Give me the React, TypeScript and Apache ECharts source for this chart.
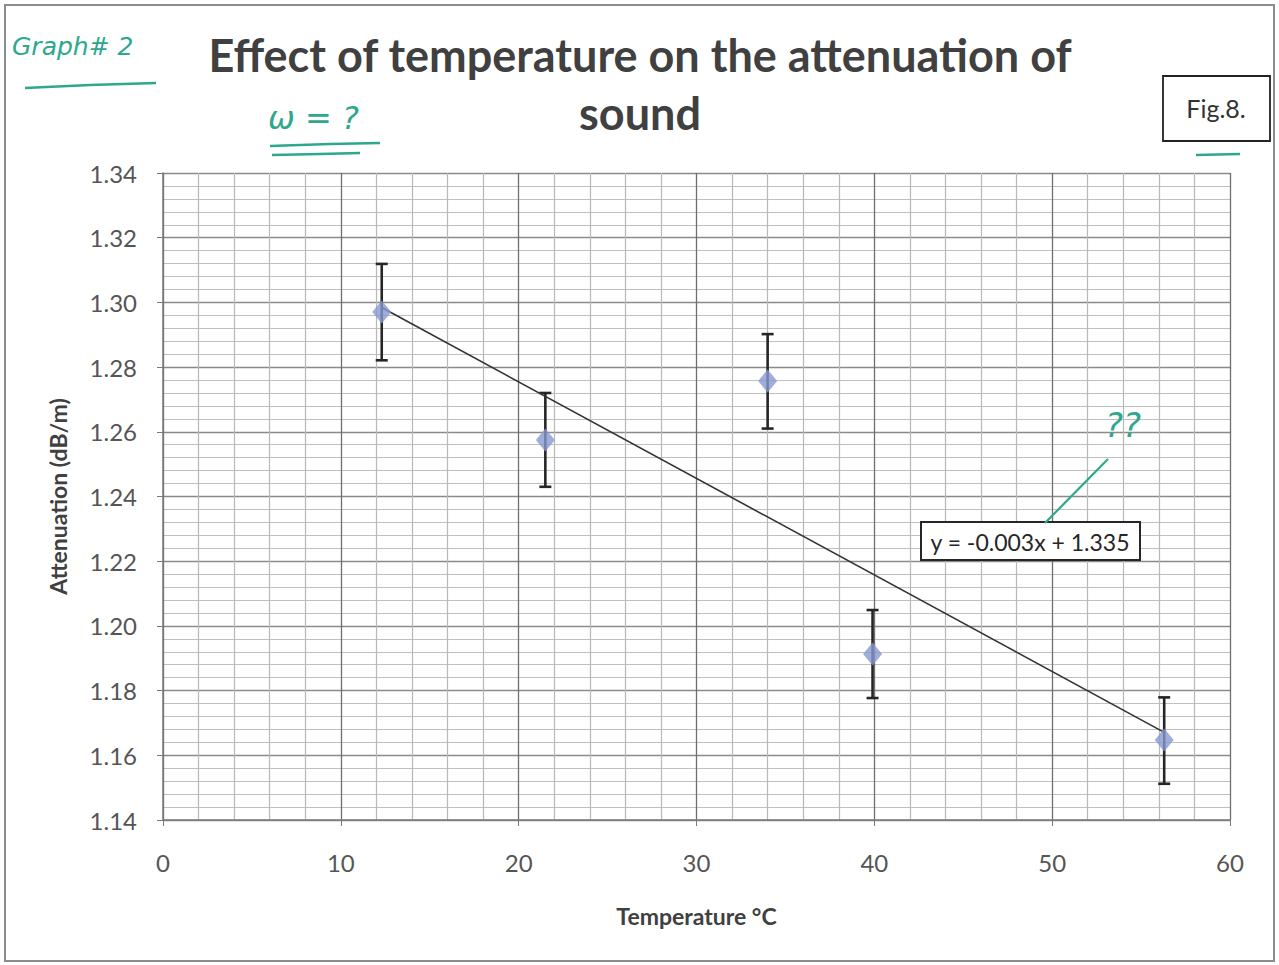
import React, { useEffect, useRef } from "react";
import * as echarts from "echarts";

const temperature = [12.3, 21.5, 34.0, 39.9, 56.3];
const attenuation = [1.297, 1.2575, 1.2757, 1.1913, 1.1647];
const errorPlus = [0.0149, 0.0145, 0.0145, 0.0136, 0.0132];
const errorMinus = [0.0149, 0.0145, 0.0147, 0.0136, 0.0135];
const titleLines = ["Effect of temperature on the attenuation of", "sound"];
const xTitle = "Temperature °C";
const yTitle = "Attenuation (dB/m)";
const equationLabel = "y = -0.003x + 1.335";
const figLabel = "Fig.8.";

function linearFit(xs: number[], ys: number[]) {
  const n = xs.length;
  const mx = xs.reduce((a, b) => a + b, 0) / n;
  const my = ys.reduce((a, b) => a + b, 0) / n;
  let sxy = 0, sxx = 0;
  for (let i = 0; i < n; i++) {
    sxy += (xs[i] - mx) * (ys[i] - my);
    sxx += (xs[i] - mx) * (xs[i] - mx);
  }
  const slope = sxy / sxx;
  return { slope, intercept: my - slope * mx };
}

const FONT = "Lato, 'Open Sans', sans-serif";
const INK = "#2da88c";

export default function App() {
  const ref = useRef<HTMLDivElement>(null);
  useEffect(() => {
    if (!ref.current) return;
    const chart = echarts.init(ref.current, null, { renderer: "svg" });
    const fit = linearFit(temperature, attenuation);
    const x0 = Math.min(...temperature);
    const x1 = Math.max(...temperature);
    const trend = [
      [x0, fit.slope * x0 + fit.intercept],
      [x1, fit.slope * x1 + fit.intercept],
    ];
    const errData = temperature.map((t, i) => [t, attenuation[i] - errorMinus[i], attenuation[i] + errorPlus[i]]);
    const pts = temperature.map((t, i) => [t, attenuation[i]]);

    chart.setOption({
      animation: false,
      backgroundColor: "#ffffff",
      grid: { left: 163, right: 49, top: 173, bottom: 145, containLabel: false },
      xAxis: {
        type: "value",
        min: 0,
        max: 60,
        interval: 10,
        name: xTitle,
        nameLocation: "middle",
        nameGap: 84,
        nameTextStyle: { fontFamily: FONT, fontWeight: "bold", fontSize: 23, color: "#404040" },
        axisLine: { show: true, lineStyle: { color: "#7a7a7a", width: 1.5 } },
        axisTick: { show: true, length: 6, lineStyle: { color: "#7a7a7a" } },
        axisLabel: { fontFamily: FONT, fontSize: 24, color: "#555555", margin: 30 },
        splitLine: { show: true, lineStyle: { color: "#6e6e6e", width: 1.3 } },
        minorTick: { show: false, splitNumber: 5 },
        minorSplitLine: { show: true, lineStyle: { color: "#b8b8b8", width: 1.2 } },
      },
      yAxis: {
        type: "value",
        min: 1.14,
        max: 1.34,
        interval: 0.02,
        name: yTitle,
        nameLocation: "middle",
        nameGap: 94,
        nameRotate: 90,
        nameTextStyle: { fontFamily: FONT, fontWeight: "bold", fontSize: 23, color: "#404040" },
        axisLine: { show: true, lineStyle: { color: "#7a7a7a", width: 1.5 } },
        axisTick: { show: true, length: 6, lineStyle: { color: "#7a7a7a" } },
        axisLabel: {
          fontFamily: FONT,
          fontSize: 24,
          color: "#555555",
          margin: 26,
          formatter: (v: number) => v.toFixed(2),
        },
        splitLine: { show: true, lineStyle: { color: "#8a8a8a", width: 1.3 } },
        minorTick: { show: false, splitNumber: 5 },
        minorSplitLine: { show: true, lineStyle: { color: "#c0c0c0", width: 1.2 } },
      },
      series: [
        {
          type: "custom",
          z: 2,
          data: errData,
          renderItem: (params: any, api: any) => {
            const x = api.value(0);
            const lo = api.coord([x, api.value(1)]);
            const hi = api.coord([x, api.value(2)]);
            const cap = 6;
            const style = { stroke: "#262626", lineWidth: 2.6 };
            return {
              type: "group",
              children: [
                { type: "line", shape: { x1: lo[0], y1: lo[1], x2: hi[0], y2: hi[1] }, style },
                { type: "line", shape: { x1: hi[0] - cap, y1: hi[1], x2: hi[0] + cap, y2: hi[1] }, style },
                { type: "line", shape: { x1: lo[0] - cap, y1: lo[1], x2: lo[0] + cap, y2: lo[1] }, style },
              ],
            };
          },
        },
        {
          type: "line",
          z: 3,
          data: trend,
          symbol: "none",
          lineStyle: { color: "#333333", width: 1.6 },
        },
        {
          type: "scatter",
          z: 4,
          data: pts,
          symbol: "diamond",
          symbolSize: [19, 23],
          itemStyle: { color: "#8798d2" },
        },
      ],
      graphic: [
        {
          type: "rect",
          shape: { x: 5, y: 5, width: 1269, height: 956 },
          style: { fill: "none", stroke: "#8c8c8c", lineWidth: 2 },
          z: 100,
        },
        {
          type: "text",
          x: 640,
          y: 55,
          style: {
            text: titleLines[0],
            fontFamily: FONT,
            fontWeight: "bold",
            fontSize: 45,
            fill: "#404040",
            textAlign: "center",
            textVerticalAlign: "middle",
          },
        },
        {
          type: "text",
          x: 640,
          y: 113,
          style: {
            text: titleLines[1],
            fontFamily: FONT,
            fontWeight: "bold",
            fontSize: 45,
            fill: "#404040",
            textAlign: "center",
            textVerticalAlign: "middle",
          },
        },
        {
          type: "rect",
          shape: { x: 1163, y: 76, width: 107, height: 65 },
          style: { fill: "#ffffff", stroke: "#222222", lineWidth: 1.8 },
        },
        {
          type: "text",
          x: 1216,
          y: 108,
          style: {
            text: figLabel,
            fontFamily: FONT,
            fontSize: 25,
            fill: "#333333",
            textAlign: "center",
            textVerticalAlign: "middle",
          },
        },
        {
          type: "rect",
          z: 50,
          shape: { x: 921, y: 522, width: 219, height: 38 },
          style: { fill: "#ffffff", stroke: "#262626", lineWidth: 2 },
        },
        {
          type: "text",
          z: 51,
          x: 1030,
          y: 542,
          style: {
            text: equationLabel,
            fontFamily: FONT,
            fontSize: 23,
            fill: "#262626",
            textAlign: "center",
            textVerticalAlign: "middle",
          },
        },
        // handwritten annotations
        {
          type: "text",
          x: 12,
          y: 46,
          style: {
            text: "Graph# 2",
            fontFamily: "'DejaVu Sans', sans-serif",
            fontStyle: "italic",
            fontSize: 25,
            fill: INK,
            textVerticalAlign: "middle",
          },
        },
        {
          type: "polyline",
          shape: { points: [[25, 88], [90, 85], [156, 83]] },
          style: { stroke: INK, lineWidth: 2.5, fill: "none" },
        },
        {
          type: "text",
          x: 268,
          y: 118,
          style: {
            text: "ω = ?",
            fontFamily: "'DejaVu Sans', sans-serif",
            fontStyle: "italic",
            fontSize: 32,
            fill: INK,
            textVerticalAlign: "middle",
          },
        },
        {
          type: "polyline",
          shape: { points: [[270, 146], [330, 144], [380, 143]] },
          style: { stroke: INK, lineWidth: 2.5, fill: "none" },
        },
        {
          type: "polyline",
          shape: { points: [[272, 155], [320, 154], [360, 153]] },
          style: { stroke: INK, lineWidth: 2.5, fill: "none" },
        },
        {
          type: "text",
          z: 60,
          x: 1105,
          y: 425,
          style: {
            text: "??",
            fontFamily: "'DejaVu Sans', sans-serif",
            fontStyle: "italic",
            fontSize: 34,
            fill: INK,
            textVerticalAlign: "middle",
          },
        },
        {
          type: "line",
          z: 60,
          shape: { x1: 1045, y1: 523, x2: 1108, y2: 459 },
          style: { stroke: INK, lineWidth: 2.2 },
        },
        {
          type: "line",
          shape: { x1: 1196, y1: 155, x2: 1240, y2: 154 },
          style: { stroke: INK, lineWidth: 2.5 },
        },
      ],
    });
    return () => chart.dispose();
  }, []);
  return (
    <div
      ref={ref}
      style={{ position: "fixed", left: 0, top: 0, width: 1279, height: 965, background: "#fff" }}
    />
  );
}
